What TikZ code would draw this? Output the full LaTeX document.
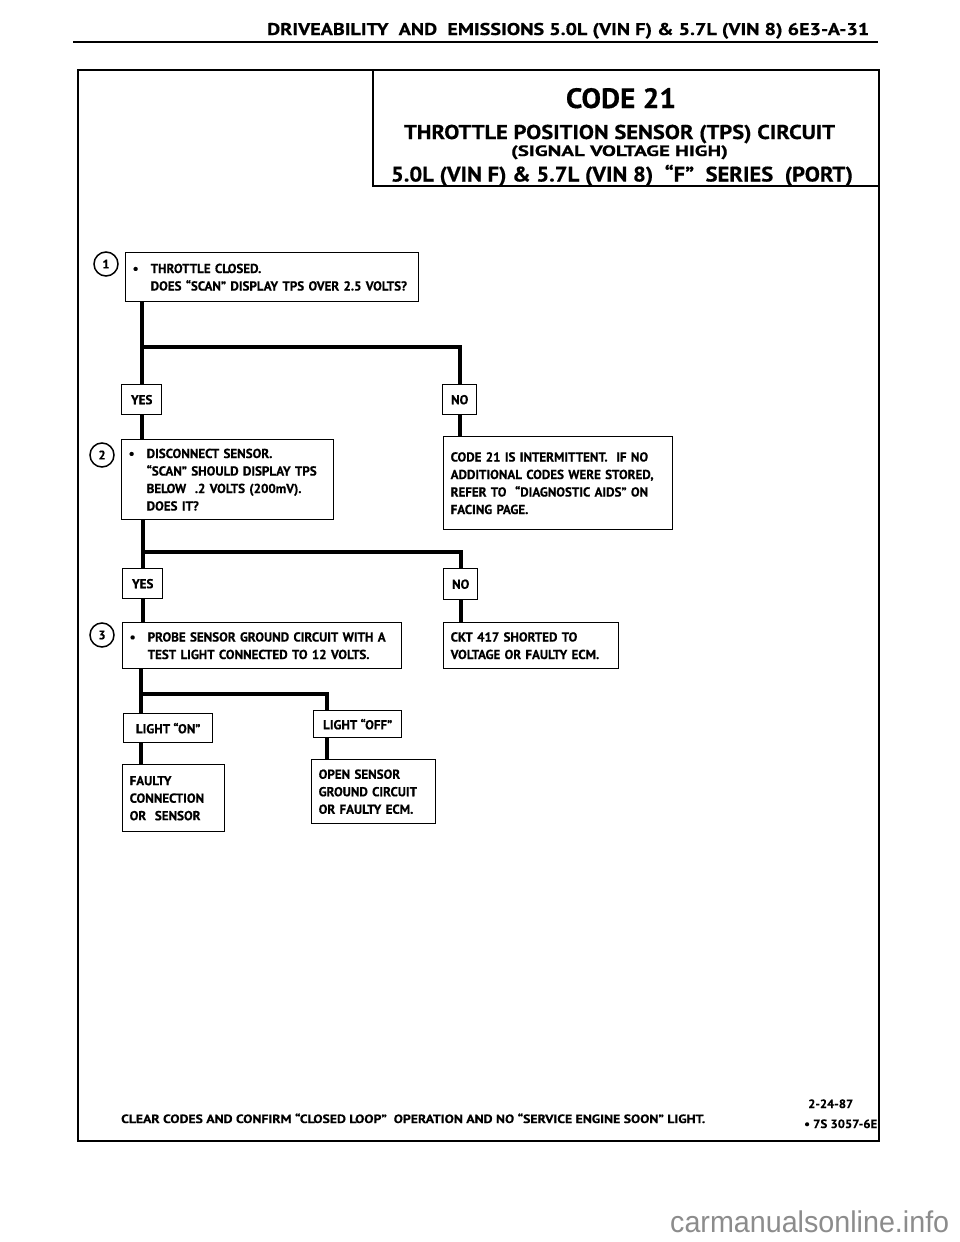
\documentclass[tikz,border=0pt]{standalone}
\usepackage{fontspec}
\setmainfont{PT Sans}[BoldFeatures={FakeBold=0.5}]
\newfontfamily\markfont{Liberation Sans}
\newcommand{\fitw}[2]{\resizebox{#1}{\height}{#2}}

\begin{document}
\begin{tikzpicture}[x=1pt,y=-1pt,
  panel/.style={draw,line width=1.4pt,anchor=north west,inner xsep=7pt,inner ysep=1pt,
    align=left,font=\fontsize{13}{17.5}\selectfont\bfseries},
  tag/.style={draw,line width=1.4pt,anchor=north west,inner sep=0pt,align=center,
    font=\fontsize{13}{15}\selectfont\bfseries},
  flow/.style={line width=4pt},
  numcirc/.style={draw,circle,line width=1.5pt,minimum size=24pt,inner sep=0pt,
    font=\fontsize{12.5}{12.5}\selectfont\bfseries}]
  \fill[white] (0,0) rectangle (960,1242);
  \useasboundingbox (0,0) rectangle (960,1242);

% page header
  \node[anchor=base west,inner sep=0pt,font=\fontsize{17}{17}\selectfont\bfseries] (head) at (267,35)
    {\fitw{602pt}{DRIVEABILITY~ AND~ EMISSIONS 5.0L (VIN F) \& 5.7L (VIN 8) 6E3-A-31}};
  \draw[line width=2.4pt] (73,42) -- (878,42);

% frame and title block
  \draw[line width=2.6pt] (78,70) rectangle (879,1141);
  \draw[line width=1.3pt] (373,70) |- (879,186);
  \node[anchor=base,inner sep=0pt,font=\fontsize{28}{28}\selectfont\bfseries] (code) at (621,108)
    {\fitw{110pt}{CODE 21}};
  \node[anchor=base,inner sep=0pt,font=\fontsize{20}{20}\selectfont\bfseries] (title) at (619.5,139)
    {\fitw{431pt}{THROTTLE POSITION SENSOR (TPS) CIRCUIT}};
  \node[anchor=base,inner sep=0pt,font=\fontsize{15}{15}\selectfont\bfseries] (signal) at (619.5,156)
    {\fitw{217pt}{(SIGNAL VOLTAGE HIGH)}};
  \node[anchor=base,inner sep=0pt,font=\fontsize{21}{21}\selectfont\bfseries] (engine) at (622,181.5)
    {\fitw{462pt}{5.0L (VIN F) \& 5.7L (VIN 8)~ “F”~ SERIES~ (PORT)}};

% step 1
  \node[numcirc] (c1) at (106,264) {1};
  \node[panel,text width=279pt,minimum height=49pt] (q1) at (125,252)
    {\mbox{\makebox[18pt][l]{•}THROTTLE CLOSED.}\\\mbox{\hspace*{18pt}DOES “SCAN” DISPLAY TPS OVER 2.5 VOLTS?}};
  \node[tag,minimum width=40pt,minimum height=30pt] (yes1) at (121,384) {YES};
  \node[tag,minimum width=34pt,minimum height=30pt] (no1) at (442,384) {NO};
  \node[panel,text width=215pt,minimum height=93pt] (interm) at (443,436)
    {\mbox{CODE 21 IS INTERMITTENT.~ IF NO}\\\mbox{ADDITIONAL CODES WERE STORED,}\\
     \mbox{REFER TO~ “DIAGNOSTIC AIDS” ON}\\FACING PAGE.};
  \coordinate (s1) at (141,347);
  \draw[flow] (q1.south -| yes1.north) -- (yes1.north);
  \draw[flow] (s1) -| (no1.north);
  \draw[flow] (no1.south) -- (no1.south |- interm.north);

% step 2
  \node[numcirc] (c2) at (102,455) {2};
  \node[panel,text width=198pt,minimum height=80pt] (q2) at (121,439)
    {\mbox{\makebox[18pt][l]{•}DISCONNECT SENSOR.}\\\mbox{\hspace*{18pt}“SCAN” SHOULD DISPLAY TPS}\\
     \mbox{\hspace*{18pt}BELOW~ .2 VOLTS (200mV).}\\\mbox{\hspace*{18pt}DOES IT?}};
  \draw[flow] (yes1.south) -- (yes1.south |- q2.north);
  \node[tag,minimum width=40pt,minimum height=30pt] (yes2) at (122,568) {YES};
  \node[tag,minimum width=34pt,minimum height=31pt] (no2) at (443,568) {NO};
  \node[panel,text width=161pt,minimum height=46pt] (ckt) at (443,622)
    {\mbox{CKT 417 SHORTED TO}\\\mbox{VOLTAGE OR FAULTY ECM.}};
  \coordinate (s2) at (142,552);
  \draw[flow] (q2.south -| yes2.north) -- (yes2.north);
  \draw[flow] (s2) -| (no2.north);
  \draw[flow] (no2.south) -- (no2.south |- ckt.north);

% step 3
  \node[numcirc] (c3) at (102,635) {3};
  \node[panel,text width=265pt,minimum height=46pt] (q3) at (122,622)
    {\mbox{\makebox[18pt][l]{•}PROBE SENSOR GROUND CIRCUIT WITH A}\\\mbox{\hspace*{18pt}TEST LIGHT CONNECTED TO 12 VOLTS.}};
  \draw[flow] (yes2.south) -- (yes2.south |- q3.north);
  \node[tag,minimum width=89pt,minimum height=29pt] (on) at (123,713) {LIGHT “ON”};
  \node[tag,minimum width=88pt,minimum height=27pt] (off) at (313,710) {LIGHT “OFF”};
  \node[panel,text width=88pt,minimum height=67pt] (faulty) at (122,764)
    {FAULTY\\CONNECTION\\OR~ SENSOR};
  \node[panel,text width=110pt,minimum height=64pt] (open) at (311,759)
    {OPEN SENSOR\\GROUND CIRCUIT\\OR FAULTY ECM.};
  \coordinate (s3) at (141,694);
  \coordinate (t3) at (327,694);
  \draw[flow] (q3.south -| s3) -- (s3 |- on.north);
  \draw[flow] (s3) -- (t3) -- (t3 |- off.north);
  \draw[flow] (on.south -| s3) -- (s3 |- faulty.north);
  \draw[flow] (off.south -| t3) -- (t3 |- open.north);

% footer
  \node[anchor=base west,inner sep=0pt,font=\fontsize{12}{12}\selectfont\bfseries] (clear) at (121,1123)
    {\fitw{584pt}{CLEAR CODES AND CONFIRM “CLOSED LOOP”~ OPERATION AND NO “SERVICE ENGINE SOON” LIGHT.}};
  \node[anchor=base west,inner sep=0pt,font=\fontsize{12}{12}\selectfont\bfseries] (date) at (808,1108)
    {\fitw{45pt}{2-24-87}};
  \node[anchor=base west,inner sep=0pt,font=\fontsize{12}{12}\selectfont\bfseries] (ref) at (804,1128)
    {\fitw{73pt}{• 7S 3057-6E}};
  \node[anchor=base west,inner sep=0pt,text=black!45,font=\markfont\fontsize{30}{30}\selectfont] (mark) at (670,1232)
    {\fitw{279pt}{carmanualsonline.info}};
\end{tikzpicture}
\end{document}
